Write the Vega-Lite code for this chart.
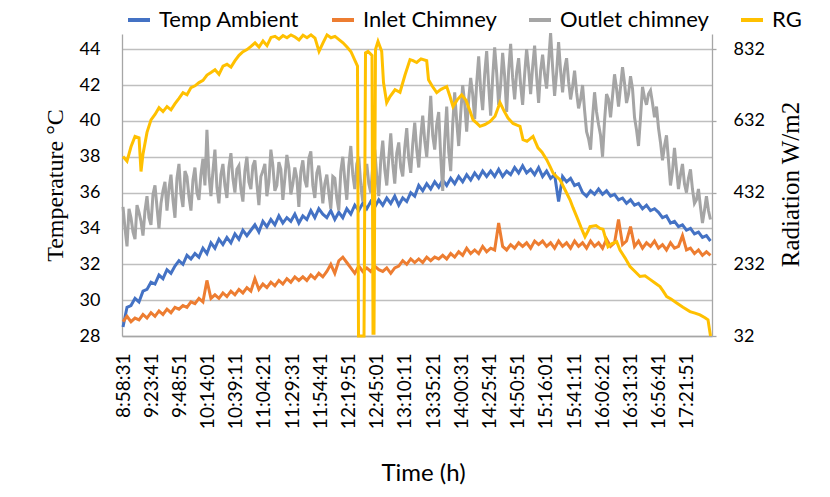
{
  "$schema": "https://vega.github.io/schema/vega-lite/v6.json",
  "width": 590,
  "height": 302,
  "autosize": {"type": "none"},
  "padding": {"left": 122, "top": 34, "right": 118, "bottom": 161},
  "background": "white",
  "config": {
    "view": {"stroke": null},
    "axis": {"labelFont": "Lato", "labelColor": "#000000", "titleColor": "#000000", "domainColor": "#a6a6a6", "tickColor": "#a6a6a6", "gridColor": "#bfbfbf"},
    "legend": {"orient": "none", "legendX": 4, "legendY": -27, "direction": "horizontal", "symbolType": "stroke", "symbolStrokeWidth": 4, "symbolSize": 484, "labelFont": "Lato", "labelFontSize": 22, "labelColor": "#000000", "columnPadding": 24, "labelOffset": 7, "title": null}
  },
  "datasets": {
    "temp": [
      {"t":32311,"a":28.5,"i":28.8,"o":35.2},{"t":32525,"a":29.6,"i":29.1,"o":33.0},{"t":32739,"a":29.7,"i":28.8,"o":34.6},{"t":32953,"a":30.1,"i":29.0,"o":33.4},{"t":33167,"a":29.9,"i":28.9,"o":34.9},{"t":33381,"a":30.5,"i":29.2,"o":33.6},{"t":33595,"a":30.6,"i":29.0,"o":35.8},{"t":33809,"a":31.0,"i":29.3,"o":34.2},{"t":34023,"a":30.9,"i":29.1,"o":36.4},{"t":34237,"a":31.4,"i":29.4,"o":34.0},
      {"t":34451,"a":31.2,"i":29.2,"o":36.1},{"t":34665,"a":31.7,"i":29.5,"o":35.0},{"t":34879,"a":31.5,"i":29.3,"o":37.0},{"t":35093,"a":31.9,"i":29.6,"o":34.6},{"t":35307,"a":32.2,"i":29.5,"o":37.6},{"t":35521,"a":32.0,"i":29.7,"o":35.2},{"t":35735,"a":32.5,"i":29.6,"o":36.9},{"t":35949,"a":32.3,"i":29.9,"o":35.0},{"t":36163,"a":32.6,"i":29.8,"o":37.4},{"t":36377,"a":32.4,"i":30.1,"o":35.6},
      {"t":36591,"a":32.9,"i":29.9,"o":37.9},{"t":36805,"a":32.6,"i":31.1,"o":39.5},{"t":37019,"a":33.2,"i":30.1,"o":35.8},{"t":37233,"a":32.9,"i":30.3,"o":38.4},{"t":37447,"a":33.4,"i":30.1,"o":35.4},{"t":37661,"a":33.1,"i":30.4,"o":37.6},{"t":37875,"a":33.5,"i":30.2,"o":35.7},{"t":38089,"a":33.2,"i":30.5,"o":38.2},{"t":38303,"a":33.7,"i":30.3,"o":36.0},{"t":38517,"a":33.4,"i":30.6,"o":37.5},
      {"t":38731,"a":33.9,"i":30.4,"o":35.5},{"t":38945,"a":33.6,"i":30.7,"o":38.0},{"t":39159,"a":33.9,"i":30.5,"o":36.2},{"t":39373,"a":34.2,"i":31.2,"o":37.8},{"t":39587,"a":33.8,"i":30.6,"o":35.3},{"t":39801,"a":34.4,"i":30.9,"o":37.2},{"t":40015,"a":34.1,"i":30.7,"o":35.8},{"t":40229,"a":34.5,"i":31.0,"o":38.4},{"t":40443,"a":34.2,"i":30.8,"o":36.1},{"t":40657,"a":34.7,"i":31.1,"o":37.7},
      {"t":40871,"a":34.3,"i":30.9,"o":35.6},{"t":41085,"a":34.6,"i":31.2,"o":38.1},{"t":41299,"a":34.4,"i":31.0,"o":35.9},{"t":41513,"a":34.8,"i":31.3,"o":37.4},{"t":41727,"a":34.3,"i":31.1,"o":35.2},{"t":41941,"a":34.7,"i":31.3,"o":37.8},{"t":42155,"a":34.5,"i":31.1,"o":36.3},{"t":42369,"a":35.0,"i":31.4,"o":38.3},{"t":42583,"a":34.6,"i":31.2,"o":35.7},{"t":42797,"a":35.1,"i":31.5,"o":37.5},
      {"t":43011,"a":34.8,"i":31.3,"o":35.4},{"t":43225,"a":34.6,"i":31.6,"o":37.0},{"t":43439,"a":35.0,"i":32.0,"o":35.1},{"t":43653,"a":34.5,"i":31.5,"o":36.8},{"t":43867,"a":34.9,"i":32.2,"o":35.0},{"t":44081,"a":34.6,"i":32.4,"o":38.0},{"t":44295,"a":35.1,"i":32.1,"o":35.6},{"t":44509,"a":34.8,"i":31.8,"o":38.6},{"t":44723,"a":35.3,"i":31.5,"o":36.2},{"t":44937,"a":35.0,"i":31.9,"o":38.0},
      {"t":45151,"a":35.4,"i":31.6,"o":35.5},{"t":45365,"a":35.1,"i":31.8,"o":37.6},{"t":45579,"a":35.5,"i":31.6,"o":36.0},{"t":45793,"a":35.2,"i":31.9,"o":38.4},{"t":46007,"a":35.6,"i":31.7,"o":35.8},{"t":46221,"a":35.3,"i":31.6,"o":38.9},{"t":46435,"a":35.7,"i":31.8,"o":36.4},{"t":46649,"a":35.4,"i":31.5,"o":39.3},{"t":46863,"a":35.8,"i":31.8,"o":36.5},{"t":47077,"a":35.3,"i":31.9,"o":38.8},
      {"t":47291,"a":35.7,"i":32.2,"o":36.9},{"t":47505,"a":35.5,"i":32.0,"o":39.6},{"t":47719,"a":36.0,"i":32.3,"o":37.1},{"t":47933,"a":35.8,"i":32.1,"o":39.9},{"t":48147,"a":36.4,"i":32.3,"o":37.4},{"t":48361,"a":36.1,"i":32.1,"o":40.3},{"t":48575,"a":36.5,"i":32.4,"o":38.0},{"t":48789,"a":36.2,"i":32.2,"o":41.4},{"t":49003,"a":36.6,"i":32.4,"o":38.4},{"t":49217,"a":36.3,"i":32.3,"o":40.5},
      {"t":49431,"a":36.7,"i":32.5,"o":36.1},{"t":49645,"a":36.4,"i":32.3,"o":40.8},{"t":49859,"a":36.8,"i":32.6,"o":37.2},{"t":50073,"a":36.5,"i":32.4,"o":41.6},{"t":50287,"a":36.9,"i":32.7,"o":38.6},{"t":50501,"a":36.6,"i":32.5,"o":42.0},{"t":50715,"a":37.0,"i":32.9,"o":39.4},{"t":50929,"a":36.7,"i":32.6,"o":42.4},{"t":51143,"a":37.1,"i":32.8,"o":40.1},{"t":51357,"a":36.8,"i":32.6,"o":43.6},
      {"t":51571,"a":37.2,"i":33.0,"o":40.6},{"t":51785,"a":36.9,"i":32.7,"o":43.9},{"t":51999,"a":37.2,"i":32.9,"o":40.3},{"t":52213,"a":36.9,"i":32.8,"o":44.1},{"t":52427,"a":37.3,"i":34.3,"o":40.9},{"t":52641,"a":36.9,"i":33.0,"o":43.8},{"t":52855,"a":37.2,"i":32.8,"o":40.5},{"t":53069,"a":37.0,"i":33.1,"o":44.3},{"t":53283,"a":37.4,"i":32.9,"o":41.2},{"t":53497,"a":37.1,"i":33.2,"o":43.5},
      {"t":53711,"a":37.5,"i":33.0,"o":40.9},{"t":53925,"a":37.1,"i":33.2,"o":44.0},{"t":54139,"a":37.3,"i":32.9,"o":41.5},{"t":54353,"a":37.0,"i":33.3,"o":44.2},{"t":54567,"a":37.4,"i":33.1,"o":41.0},{"t":54781,"a":36.9,"i":33.3,"o":43.7},{"t":54995,"a":37.2,"i":33.0,"o":41.8},{"t":55209,"a":36.8,"i":33.2,"o":44.9},{"t":55423,"a":37.0,"i":32.9,"o":41.4},{"t":55637,"a":35.5,"i":33.3,"o":44.4},
      {"t":55851,"a":36.9,"i":33.0,"o":41.6},{"t":56065,"a":36.6,"i":33.2,"o":43.5},{"t":56279,"a":36.8,"i":32.9,"o":41.2},{"t":56493,"a":36.4,"i":33.3,"o":42.8},{"t":56707,"a":36.5,"i":33.0,"o":40.7},{"t":56921,"a":36.0,"i":33.2,"o":42.0},{"t":57135,"a":35.8,"i":32.9,"o":39.4},{"t":57349,"a":36.1,"i":33.3,"o":38.4},{"t":57563,"a":35.9,"i":33.0,"o":41.6},{"t":57777,"a":36.2,"i":33.2,"o":39.8},
      {"t":57991,"a":35.9,"i":32.9,"o":38.0},{"t":58205,"a":36.1,"i":33.4,"o":41.5},{"t":58419,"a":35.8,"i":33.0,"o":40.2},{"t":58633,"a":35.9,"i":33.2,"o":42.6},{"t":58847,"a":35.6,"i":34.5,"o":40.8},{"t":59061,"a":35.7,"i":33.1,"o":43.0},{"t":59275,"a":35.4,"i":33.3,"o":41.0},{"t":59489,"a":35.6,"i":34.1,"o":42.5},{"t":59703,"a":35.3,"i":33.0,"o":40.2},{"t":59917,"a":35.4,"i":33.3,"o":38.6},
      {"t":60131,"a":35.1,"i":32.9,"o":41.9},{"t":60345,"a":35.3,"i":33.2,"o":40.9},{"t":60559,"a":35.0,"i":33.0,"o":41.7},{"t":60773,"a":35.1,"i":33.3,"o":40.2},{"t":60987,"a":34.9,"i":32.9,"o":39.6},{"t":61201,"a":34.6,"i":33.1,"o":37.8},{"t":61415,"a":34.7,"i":32.8,"o":39.2},{"t":61629,"a":34.3,"i":33.2,"o":36.4},{"t":61843,"a":34.4,"i":32.9,"o":38.5},{"t":62057,"a":34.1,"i":33.0,"o":36.2},
      {"t":62271,"a":34.2,"i":33.6,"o":37.6},{"t":62485,"a":33.9,"i":32.8,"o":36.0},{"t":62699,"a":34.0,"i":32.9,"o":37.3},{"t":62913,"a":33.7,"i":32.6,"o":35.4},{"t":63127,"a":33.8,"i":32.8,"o":36.2},{"t":63341,"a":33.5,"i":32.5,"o":34.3},{"t":63555,"a":33.6,"i":32.7,"o":35.8},{"t":63769,"a":33.3,"i":32.5,"o":34.5},
      {"t":32418,"o":34.0},{"t":32632,"o":35.1},{"t":32846,"o":33.8},{"t":33060,"o":35.3},{"t":33274,"o":34.4},{"t":33488,"o":35.0},{"t":33702,"o":34.6},{"t":33916,"o":35.9},{"t":34130,"o":35.2},{"t":34344,"o":35.4},
      {"t":34558,"o":36.6},{"t":34772,"o":36.2},{"t":34986,"o":35.6},{"t":35200,"o":36.8},{"t":35414,"o":35.9},{"t":35628,"o":37.2},{"t":35842,"o":35.8},{"t":36056,"o":36.7},{"t":36270,"o":36.0},{"t":36484,"o":37.0},
      {"t":36698,"o":36.4},{"t":36912,"o":37.0},{"t":37126,"o":37.2},{"t":37340,"o":36.3},{"t":37554,"o":37.0},{"t":37768,"o":36.4},{"t":37982,"o":37.4},{"t":38196,"o":36.8},{"t":38410,"o":37.3},{"t":38624,"o":36.2},
      {"t":38838,"o":37.2},{"t":39052,"o":36.6},{"t":39266,"o":37.5},{"t":39480,"o":36.5},{"t":39694,"o":36.9},{"t":39908,"o":37.6},{"t":40122,"o":36.6},{"t":40336,"o":37.5},{"t":40550,"o":36.4},{"t":40764,"o":37.3},
      {"t":40978,"o":36.8},{"t":41192,"o":37.4},{"t":41406,"o":36.5},{"t":41620,"o":36.8},{"t":41834,"o":37.2},{"t":42048,"o":36.7},{"t":42262,"o":37.9},{"t":42476,"o":36.4},{"t":42690,"o":37.1},{"t":42904,"o":36.6},
      {"t":43118,"o":36.5},{"t":43332,"o":36.0},{"t":43546,"o":36.9},{"t":43760,"o":35.7},{"t":43974,"o":37.2},{"t":44188,"o":36.7},{"t":44402,"o":37.5},{"t":44616,"o":37.0},{"t":44830,"o":37.6},{"t":45044,"o":36.4},
      {"t":45258,"o":37.0},{"t":45472,"o":36.5},{"t":45686,"o":37.5},{"t":45900,"o":36.9},{"t":46114,"o":37.8},{"t":46328,"o":37.3},{"t":46542,"o":37.9},{"t":46756,"o":37.6},{"t":46970,"o":38.2},{"t":47184,"o":37.4},
      {"t":47398,"o":38.5},{"t":47612,"o":37.9},{"t":47826,"o":38.7},{"t":48040,"o":38.4},{"t":48254,"o":39.1},{"t":48468,"o":38.9},{"t":48682,"o":39.6},{"t":48896,"o":39.2},{"t":49110,"o":39.8},{"t":49324,"o":38.0},
      {"t":49538,"o":38.9},{"t":49752,"o":38.3},{"t":49966,"o":39.8},{"t":50180,"o":40.0},{"t":50394,"o":40.4},{"t":50608,"o":41.0},{"t":50822,"o":41.2},{"t":51036,"o":41.5},{"t":51250,"o":42.1},{"t":51464,"o":41.7},
      {"t":51678,"o":42.6},{"t":51892,"o":42.0},{"t":52106,"o":42.4},{"t":52320,"o":42.7},{"t":52534,"o":42.0},{"t":52748,"o":42.5},{"t":52962,"o":42.8},{"t":53176,"o":42.4},{"t":53390,"o":42.7},{"t":53604,"o":42.0},
      {"t":53818,"o":42.6},{"t":54032,"o":42.9},{"t":54246,"o":43.0},{"t":54460,"o":42.5},{"t":54674,"o":42.8},{"t":54888,"o":42.6},{"t":55102,"o":43.3},{"t":55316,"o":43.0},{"t":55530,"o":42.7},{"t":55744,"o":42.8},
      {"t":55958,"o":42.9},{"t":56172,"o":42.2},{"t":56386,"o":41.9},{"t":56600,"o":41.6},{"t":56814,"o":41.2},{"t":57028,"o":40.6},{"t":57242,"o":39.0},{"t":57456,"o":40.2},{"t":57670,"o":40.5},{"t":57884,"o":39.2},
      {"t":58098,"o":40.0},{"t":58312,"o":41.2},{"t":58526,"o":41.4},{"t":58740,"o":41.8},{"t":58954,"o":41.9},{"t":59168,"o":42.1},{"t":59382,"o":41.5},{"t":59596,"o":41.8},{"t":59810,"o":39.5},{"t":60024,"o":40.2},
      {"t":60238,"o":41.3},{"t":60452,"o":41.5},{"t":60666,"o":41.0},{"t":60880,"o":40.8},{"t":61094,"o":38.8},{"t":61308,"o":38.6},{"t":61522,"o":37.8},{"t":61736,"o":37.2},{"t":61950,"o":37.3},{"t":62164,"o":37.0},
      {"t":62378,"o":36.5},{"t":62592,"o":36.8},{"t":62806,"o":36.2},{"t":63020,"o":35.6},{"t":63234,"o":35.2},{"t":63448,"o":35.0},{"t":63662,"o":35.0}
    ],
    "rg": [
      {"t":32311,"rg":533},{"t":32525,"rg":520},{"t":32739,"rg":560},{"t":32954,"rg":589},{"t":33168,"rg":585},{"t":33275,"rg":491},{"t":33382,"rg":540},{"t":33596,"rg":600},{"t":33810,"rg":635},{"t":34025,"rg":650},
      {"t":34239,"rg":669},{"t":34453,"rg":658},{"t":34667,"rg":672},{"t":34881,"rg":663},{"t":35096,"rg":680},{"t":35310,"rg":695},{"t":35524,"rg":711},{"t":35738,"rg":705},{"t":35952,"rg":725},{"t":36167,"rg":730},
      {"t":36381,"rg":739},{"t":36595,"rg":745},{"t":36809,"rg":760},{"t":37023,"rg":767},{"t":37238,"rg":775},{"t":37452,"rg":762},{"t":37666,"rg":785},{"t":37880,"rg":790},{"t":38094,"rg":782},{"t":38309,"rg":800},
      {"t":38523,"rg":815},{"t":38737,"rg":825},{"t":38951,"rg":831},{"t":39165,"rg":840},{"t":39380,"rg":850},{"t":39594,"rg":838},{"t":39808,"rg":855},{"t":40022,"rg":842},{"t":40236,"rg":865},{"t":40451,"rg":868},
      {"t":40665,"rg":860},{"t":40879,"rg":870},{"t":41093,"rg":864},{"t":41307,"rg":872},{"t":41522,"rg":866},{"t":41736,"rg":858},{"t":41950,"rg":871},{"t":42164,"rg":864},{"t":42378,"rg":872},{"t":42593,"rg":863},
      {"t":42807,"rg":826},{"t":43021,"rg":850},{"t":43235,"rg":872},{"t":43449,"rg":864},{"t":43664,"rg":868},{"t":43878,"rg":859},{"t":44092,"rg":850},{"t":44306,"rg":838},{"t":44520,"rg":825},{"t":44735,"rg":800},
      {"t":44868,"rg":785},{"t":44922,"rg":32},{"t":45217,"rg":32},{"t":45297,"rg":822},{"t":45431,"rg":826},{"t":45645,"rg":815},{"t":45699,"rg":40},{"t":45752,"rg":40},{"t":45832,"rg":831},{"t":45966,"rg":854},
      {"t":46164,"rg":826},{"t":46261,"rg":739},{"t":46432,"rg":683},{"t":46609,"rg":700},{"t":46877,"rg":719},{"t":47144,"rg":712},{"t":47412,"rg":760},{"t":47680,"rg":803},{"t":47841,"rg":800},{"t":48038,"rg":795},
      {"t":48269,"rg":805},{"t":48574,"rg":800},{"t":48671,"rg":747},{"t":48858,"rg":730},{"t":49110,"rg":711},{"t":49340,"rg":720},{"t":49645,"rg":728},{"t":49822,"rg":700},{"t":49983,"rg":672},{"t":50197,"rg":690},
      {"t":50448,"rg":705},{"t":50679,"rg":690},{"t":50893,"rg":660},{"t":51054,"rg":635},{"t":51268,"rg":625},{"t":51428,"rg":617},{"t":51696,"rg":622},{"t":51964,"rg":630},{"t":52232,"rg":645},{"t":52499,"rg":683},
      {"t":52714,"rg":660},{"t":52928,"rg":640},{"t":53196,"rg":625},{"t":53410,"rg":620},{"t":53570,"rg":617},{"t":53731,"rg":580},{"t":53945,"rg":575},{"t":54267,"rg":589},{"t":54534,"rg":557},{"t":54748,"rg":545},
      {"t":55000,"rg":524},{"t":55177,"rg":505},{"t":55338,"rg":487},{"t":55498,"rg":478},{"t":55712,"rg":468},{"t":55980,"rg":440},{"t":56248,"rg":412},{"t":56409,"rg":390},{"t":56607,"rg":365},{"t":56837,"rg":335},
      {"t":57051,"rg":309},{"t":57212,"rg":325},{"t":57319,"rg":337},{"t":57640,"rg":340},{"t":57854,"rg":332},{"t":58015,"rg":330},{"t":58176,"rg":300},{"t":58283,"rg":281},{"t":58497,"rg":290},{"t":58749,"rg":295},
      {"t":58925,"rg":272},{"t":59193,"rg":250},{"t":59461,"rg":226},{"t":59729,"rg":212},{"t":59996,"rg":198},{"t":60264,"rg":200},{"t":60532,"rg":190},{"t":60800,"rg":180},{"t":61067,"rg":170},{"t":61228,"rg":158},
      {"t":61426,"rg":142},{"t":61656,"rg":135},{"t":61962,"rg":124},{"t":62299,"rg":112},{"t":62674,"rg":100},{"t":62942,"rg":96},{"t":63209,"rg":91},{"t":63477,"rg":83},{"t":63638,"rg":77},{"t":63718,"rg":50},{"t":63772,"rg":32}
    ]
  },
  "layer": [
    {
      "data": {"name": "temp"},
      "transform": [{"fold": ["a", "i", "o"], "as": ["series", "value"]}, {"filter": "isValid(datum.value)"}],
      "mark": {"type": "line", "strokeWidth": 3},
      "encoding": {
        "x": {"field": "t", "type": "quantitative", "scale": {"domain": [32257, 63852], "nice": false, "zero": false},
          "axis": {"values": [32311,33821,35331,36841,38351,39861,41371,42881,44391,45901,47411,48921,50431,51941,53451,54961,56471,57981,59491,61001,62511],
            "labelExpr": "floor(datum.value/3600) + ':' + (floor((datum.value%3600)/60) < 10 ? '0' : '') + floor((datum.value%3600)/60) + ':' + (datum.value%60 < 10 ? '0' : '') + (datum.value%60)",
            "labelAngle": -90, "labelAlign": "right", "labelBaseline": "middle", "labelPadding": 17, "labelFontSize": 19, "ticks": false, "grid": false, "domain": true, "domainWidth": 1.3,
            "title": "Time (h)", "titleFont": "Lato", "titleFontSize": 24, "titleFontWeight": "normal", "titleX": 301, "titleY": 137, "titleBaseline": "middle", "titleAlign": "center", "labelOverlap": false}},
        "y": {"field": "value", "type": "quantitative", "scale": {"domain": [28, 44.85], "nice": false, "zero": false},
          "axis": {"orient": "left", "values": [28,30,32,34,36,38,40,42,44], "grid": true, "gridWidth": 1.3, "ticks": false, "domain": true, "domainWidth": 1.3, "labelPadding": 22, "labelFontSize": 18,
            "title": "Temperature °C", "titleFont": "Liberation Serif", "titleFontSize": 24, "titleFontWeight": "normal", "titleAngle": -90, "titleX": -67, "titleY": 151, "titleBaseline": "middle", "titleAlign": "center"}},
        "color": {"field": "series", "type": "nominal",
          "scale": {"domain": ["a", "i", "o", "rg"], "range": ["#4472C4", "#ED7D31", "#A5A5A5", "#FFC000"]},
          "legend": {"labelExpr": "datum.label == 'a' ? 'Temp Ambient' : datum.label == 'i' ? 'Inlet Chimney' : datum.label == 'o' ? 'Outlet chimney' : 'RG'"}}
      }
    },
    {
      "data": {"name": "rg"},
      "transform": [{"fold": ["rg"], "as": ["series", "value"]}],
      "mark": {"type": "line", "strokeWidth": 3},
      "encoding": {
        "x": {"field": "t", "type": "quantitative", "scale": {"domain": [32257, 63852], "nice": false, "zero": false},
          "axis": {"values": [32311,33821,35331,36841,38351,39861,41371,42881,44391,45901,47411,48921,50431,51941,53451,54961,56471,57981,59491,61001,62511],
            "labelExpr": "floor(datum.value/3600) + ':' + (floor((datum.value%3600)/60) < 10 ? '0' : '') + floor((datum.value%3600)/60) + ':' + (datum.value%60 < 10 ? '0' : '') + (datum.value%60)",
            "labelAngle": -90, "labelAlign": "right", "labelBaseline": "middle", "labelPadding": 17, "labelFontSize": 19, "ticks": false, "grid": false, "domain": true, "domainWidth": 1.3,
            "title": "Time (h)", "titleFont": "Lato", "titleFontSize": 24, "titleFontWeight": "normal", "titleX": 301, "titleY": 137, "titleBaseline": "middle", "titleAlign": "center", "labelOverlap": false}},
        "y": {"field": "value", "type": "quantitative", "scale": {"domain": [32, 874.5], "nice": false, "zero": false},
          "axis": {"orient": "right", "values": [32, 232, 432, 632, 832], "grid": false, "ticks": true, "tickSize": 4, "tickWidth": 1.3, "domain": true, "domainWidth": 1.3, "labelPadding": 17, "labelFontSize": 18,
            "title": "Radiation W/m2", "titleFont": "Liberation Serif", "titleFontSize": 25, "titleFontWeight": "normal", "titleAngle": -90, "titleX": 78, "titleY": 150, "titleBaseline": "middle", "titleAlign": "center"}},
        "color": {"field": "series", "type": "nominal"}
      }
    }
  ],
  "resolve": {"scale": {"y": "independent"}}
}
